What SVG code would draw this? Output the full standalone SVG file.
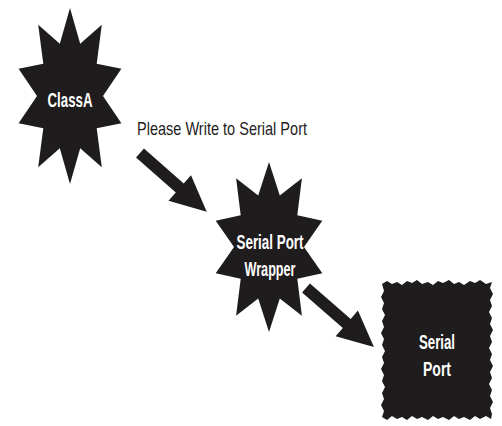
<svg xmlns="http://www.w3.org/2000/svg" width="502" height="426" viewBox="0 0 502 426">
<style>
.shape{fill:#1f1c1d;stroke:none}
.nl{font-family:"Liberation Sans",Arial,sans-serif;font-weight:bold;font-size:21px;fill:#ffffff;text-anchor:middle}
.lbl{font-family:"Liberation Sans",Arial,sans-serif;font-size:19px;fill:#1f1c1d}
.arrow{fill:#1f1c1d}
</style>
<rect width="502" height="426" fill="#ffffff"/>
<g id="classA">
<polygon class="shape" points="70,8 80.2,43.7 101.8,24.8 96.7,63.7 121.4,68.8 103,96 121.4,123.2 96.7,128.3 101.8,167.2 80.2,148.3 70,184 59.8,148.3 38.2,167.2 43.3,128.3 18.6,123.2 37,96 18.6,68.8 43.3,63.7 38.2,24.8 59.8,43.7"/>
<text class="nl" x="70" y="107" textLength="45" lengthAdjust="spacingAndGlyphs">ClassA</text>
</g>
<g id="wrapper">
<polygon class="shape" points="269,162 279.8,195.6 301.9,178.2 297.3,215.2 322.3,220.7 304,247 322.3,273.3 297.3,278.8 301.9,315.8 279.8,298.4 269,332 258.2,298.4 236.1,315.8 240.7,278.8 215.7,273.3 234,247 215.7,220.7 240.7,215.2 236.1,178.2 258.2,195.6"/>
<text class="nl" x="270" y="249" textLength="67" lengthAdjust="spacingAndGlyphs">Serial Port</text>
<text class="nl" x="270" y="276" textLength="51" lengthAdjust="spacingAndGlyphs">Wrapper</text>
</g>
<g id="serialPort">
<polygon class="shape" points="382,284 387,281 392,284 397,282 402,285 407,281 412,283 417,280 422,284 428,282 433,285 438,281 443,283 449,280 454,284 459,282 464,285 470,281 475,283 480,280 486,284 492,282 490,288 493,294 490,300 492,306 489,312 492,318 490,324 493,330 490,336 492,342 489,348 492,354 490,360 493,366 490,372 492,378 489,384 492,390 490,396 493,402 490,408 492,414 491,419 486,416 480,419 475,416 470,420 464,417 459,419 454,416 449,420 443,417 438,419 433,416 428,420 422,417 417,419 412,416 407,420 402,417 397,419 392,416 387,420 382,417 384,411 381,405 384,399 382,393 385,387 382,381 384,375 381,369 384,363 382,357 385,351 382,345 384,339 381,333 384,327 382,321 385,315 382,309 384,303 381,297 384,291"/>
<text class="nl" x="437" y="349" textLength="36" lengthAdjust="spacingAndGlyphs">Serial</text>
<text class="nl" x="437" y="376" textLength="28" lengthAdjust="spacingAndGlyphs">Port</text>
</g>
<g id="connectors">
<g transform="translate(140,153) rotate(41.4)">
<polygon class="arrow" points="0,-6 53,-6 53,-17 89,0 53,17 53,6 0,6"/>
</g>
<g transform="translate(306,288) rotate(41)">
<polygon class="arrow" points="0,-6 54,-6 54,-17 90,0 54,17 54,6 0,6"/>
</g>
<text class="lbl" x="137" y="135" textLength="170" lengthAdjust="spacingAndGlyphs">Please Write to Serial Port</text>
</g>
</svg>
